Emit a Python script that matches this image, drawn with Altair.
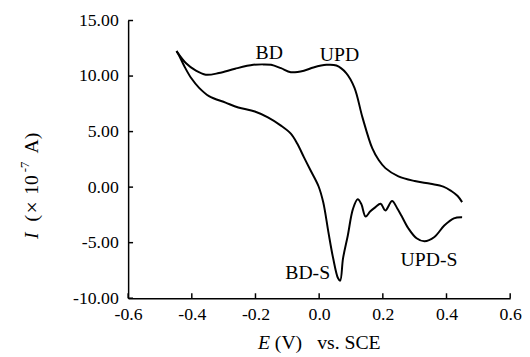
import altair as alt
import pandas as pd

# ---- data ----
E_anodic = [-0.448, -0.418, -0.387, -0.356, -0.315, -0.264, -0.207, -0.175, -0.151, -0.12,
            -0.089, -0.048, -0.018, 0.023, 0.054, 0.085, 0.111, 0.136, 0.167, 0.187,
            0.208, 0.249, 0.30, 0.35, 0.39, 0.415, 0.435, 0.449]
I_anodic = [12.25, 11.15, 10.48, 10.12, 10.27, 10.66, 11.01, 11.05, 11.01, 10.71,
            10.35, 10.48, 10.77, 11.01, 10.95, 10.27, 8.94, 6.28, 3.48, 2.44,
            1.71, 0.97, 0.55, 0.3, 0.05, -0.35, -0.8, -1.35]

E_cathodic = [0.449, 0.423, 0.393, 0.362, 0.331, 0.306, 0.28, 0.259, 0.245, 0.229,
              0.208, 0.193, 0.177, 0.16, 0.146, 0.132, 0.121, 0.106, 0.09, 0.075,
              0.066, 0.059, 0.044, 0.029, 0.013, -0.002, -0.028, -0.048, -0.069, -0.089,
              -0.12, -0.161, -0.202, -0.254, -0.294, -0.346, -0.377, -0.402, -0.423, -0.438,
              -0.448]
I_cathodic = [-2.72, -2.81, -3.46, -4.49, -4.88, -4.6, -3.7, -2.6, -1.9, -1.25,
              -2.1, -1.5, -1.8, -2.2, -2.65, -1.5, -1.1, -1.98, -4.35, -6.41,
              -8.42, -8.18, -6.41, -4.05, -1.39, 0.08, 1.56, 2.7, 3.92, 4.81,
              5.54, 6.28, 6.81, 7.17, 7.61, 8.2, 8.94, 9.82, 10.86, 11.74,
              12.25]

x_ticks = [-0.6, -0.4, -0.2, 0.0, 0.2, 0.4, 0.6]
y_ticks = [15, 10, 5, 0, -5, -10]

peak_labels = ["BD", "UPD", "BD-S", "UPD-S"]
peak_E = [-0.157, 0.064, -0.036, 0.345]
peak_I = [12.07, 11.9, -7.78, -6.55]

# ---- tables ----
rows = []
for k, (e, i) in enumerate(zip(E_anodic, I_anodic)):
    rows.append({"E": e, "I": i, "scan": "anodic", "k": k})
for k, (e, i) in enumerate(zip(E_cathodic, I_cathodic)):
    rows.append({"E": e, "I": i, "scan": "cathodic", "k": k})
df = pd.DataFrame(rows)
labels_df = pd.DataFrame({"text": peak_labels, "E": peak_E, "I": peak_I})
xt_df = pd.DataFrame({"t": x_ticks})
yt_df = pd.DataFrame({"t": y_ticks})
one = pd.DataFrame({"a": [0]})

FONT = "Liberation Serif"
W, H = 388, 282
xs = alt.Scale(domain=[-0.6, 0.6], nice=False, zero=False)
ys = alt.Scale(domain=[-10, 15], nice=False, zero=False)

line = alt.Chart(df).mark_line(color="black", strokeWidth=2, interpolate="catmull-rom").encode(
    x=alt.X("E:Q", scale=xs, axis=alt.Axis(
        values=x_ticks, title=None, grid=False, ticks=False, tickSize=0,
        labelExpr="replace(format(datum.value, '.1f'), '\u2212', '-')",
        labelFont=FONT, labelFontSize=18, labelColor="black", labelPadding=8,
        domainColor="black", domainWidth=1.5, labelFlush=False, labelOverlap=False)),
    y=alt.Y("I:Q", scale=ys, axis=alt.Axis(
        values=y_ticks, title=None, grid=False, ticks=False, tickSize=0,
        labelExpr="replace(format(datum.value, '.2f'), '\u2212', '-')",
        labelFont=FONT, labelFontSize=18, labelColor="black", labelPadding=10,
        domainColor="black", domainWidth=1.5, labelFlush=False, labelOverlap=False)),
    detail="scan:N",
    order="k:Q",
)

xticks = alt.Chart(xt_df).mark_rule(color="black", strokeWidth=1.5).encode(
    x=alt.X("t:Q", scale=xs, axis=None), y=alt.value(H), y2=alt.value(H - 5))
yticks = alt.Chart(yt_df).mark_rule(color="black", strokeWidth=1.5).encode(
    y=alt.Y("t:Q", scale=ys, axis=None), x=alt.value(0), x2=alt.value(5))

peaks = alt.Chart(labels_df).mark_text(font=FONT, fontSize=20, color="black").encode(
    x=alt.X("E:Q", scale=xs, axis=None), y=alt.Y("I:Q", scale=ys, axis=None), text="text:N")


def piece(txt, px, py, size=20, style="normal", angle=0):
    return alt.Chart(one).mark_text(
        text=txt, font=FONT, fontSize=size, fontStyle=style, color="black",
        align="left", baseline="alphabetic", angle=angle,
    ).encode(x=alt.value(px), y=alt.value(py))


# y axis title: I (×10^-7 A), rotated
ytitle = [
    piece("I", -92, 222, 20, "italic", 270),
    piece("(", -92, 204, 20, "normal", 270),
    piece("\u00d7", -91, 196, 22, "normal", 270),
    piece("10", -92, 177, 20, "normal", 270),
    piece("-7", -101, 154, 13, "normal", 270),
    piece("A)", -92, 135, 20, "normal", 270),
]
# x axis title: E (V)  vs. SCE
xtitle = [
    piece("E", 132, 334, 20, "italic"),
    piece("(V)", 149, 334, 20),
    piece("vs. SCE", 192, 334, 20),
]

chart = alt.layer(line, xticks, yticks, peaks, *ytitle, *xtitle).resolve_axis(
    x="independent", y="independent"
).properties(
    width=W, height=H,
    autosize=alt.AutoSizeParams(type="none"),
    padding={"left": 122, "top": 10, "right": 12, "bottom": 57},
).configure_view(stroke=None).configure_axis(
    labelFont=FONT, labelFontSize=18, labelColor="black"
).configure_text(font=FONT)

chart.save("out.html", embed_options={"renderer": "svg", "actions": False})
